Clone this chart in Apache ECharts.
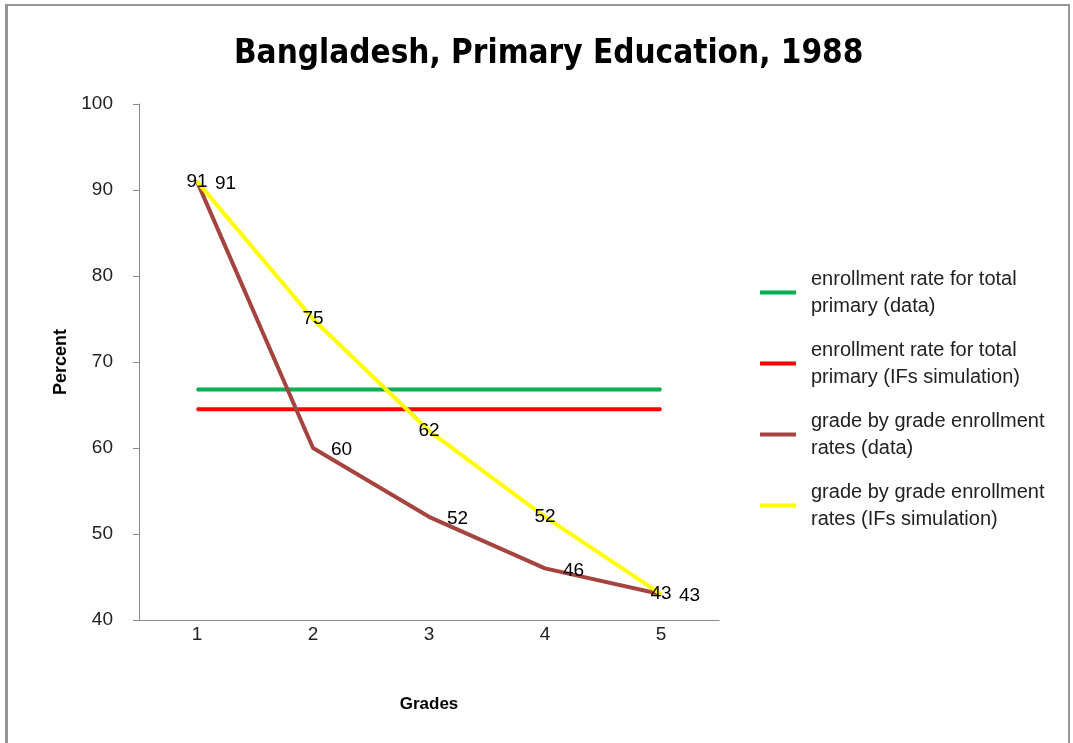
<!DOCTYPE html>
<html>
<head>
<meta charset="utf-8">
<script src="https://cdn.jsdelivr.net/npm/echarts@6/dist/echarts.min.js"></script>
<style>
  html, body { margin: 0; padding: 0; background: #fff; }
  #frame {
    position: absolute; left: 5px; top: 4px; width: 1060px; height: 745px;
    border-left: 3px solid #959595; border-top: 2px solid #959595; border-right: 2px solid #959595;
  }
  #chart { position: absolute; left: 0; top: 0; width: 1073px; height: 743px; }
</style>
</head>
<body>
<div id="frame"></div>
<div id="chart"></div>
<script>
// data
const grades = ['1', '2', '3', '4', '5'];
const totalData = [66.8, 66.8, 66.8, 66.8, 66.8];
const totalSim = [64.5, 64.5, 64.5, 64.5, 64.5];
const gradeData = [91, 60, 52, 46, 43];
const gradeSim = [91, 75, 62, 52, 43];

const seriesNames = [
    'enrollment rate for total\nprimary (data)',
    'enrollment rate for total\nprimary (IFs simulation)',
    'grade by grade enrollment\nrates (data)',
    'grade by grade enrollment\nrates (IFs simulation)'
];

const font = '"Liberation Sans", Arial, sans-serif';

const charts = echarts.init(document.getElementById('chart'));

const lineSeries = (name, data, color) => ({
    name: name,
    type: 'line',
    data: data,
    symbol: 'circle',
    symbolSize: 2,
    lineStyle: { color: color, width: 4 },
    itemStyle: { color: color },
    emphasis: { disabled: true },
    animation: false
});

charts.setOption({
    backgroundColor: 'transparent',
    title: {
        text: 'Bangladesh, Primary Education, 1988',
        left: 229,
        top: 33,
        textStyle: {
            fontFamily: '"Liberation Sans Narrow", "DejaVu Sans Condensed", sans-serif',
            fontSize: 33,
            fontWeight: 'bold',
            color: '#000'
        }
    },
    grid: {
        left: 139,
        right: 354,
        top: 104,
        bottom: 123
    },
    legend: {
        orient: 'vertical',
        left: 760,
        top: 252,
        padding: 0,
        itemGap: -10,
        itemWidth: 36,
        itemHeight: 4,
        icon: 'rect',
        data: seriesNames,
        textStyle: {
            fontFamily: font,
            fontSize: 20,
            lineHeight: 27,
            color: '#222',
            padding: [27, 0, 0, 10]
        }
    },
    xAxis: {
        type: 'category',
        data: grades,
        boundaryGap: true,
        name: 'Grades',
        nameLocation: 'middle',
        nameGap: 76,
        nameTextStyle: { fontFamily: font, fontSize: 17, fontWeight: 'bold', color: '#000' },
        axisLine: { lineStyle: { color: '#8c8c8c', width: 1 } },
        axisTick: { show: false },
        axisLabel: { fontFamily: font, fontSize: 19, color: '#222', margin: 5 }
    },
    yAxis: {
        type: 'value',
        min: 40,
        max: 100,
        interval: 10,
        name: 'Percent',
        nameLocation: 'middle',
        nameGap: 63,
        nameTextStyle: { fontFamily: font, fontSize: 18, fontWeight: 'bold', color: '#000' },
        axisLine: { show: true, lineStyle: { color: '#8c8c8c', width: 1 } },
        axisTick: { show: true, length: 6, lineStyle: { color: '#8c8c8c' } },
        axisLabel: { fontFamily: font, fontSize: 19, color: '#222', margin: 26 },
        splitLine: { show: false }
    },
    series: [
        lineSeries(seriesNames[0], totalData, '#00b050'),
        lineSeries(seriesNames[1], totalSim, '#ff0000'),
        Object.assign(lineSeries(seriesNames[2], gradeData, '#a5443f'), {
            label: {
                show: true,
                position: 'right',
                distance: 17,
                offset: [0, 2],
                fontFamily: font,
                fontSize: 19,
                color: '#000'
            }
        }),
        Object.assign(lineSeries(seriesNames[3], gradeSim, '#ffff00'), {
            label: {
                show: true,
                position: 'inside',
                fontFamily: font,
                fontSize: 19,
                color: '#000'
            }
        })
    ]
});
</script>
</body>
</html>
